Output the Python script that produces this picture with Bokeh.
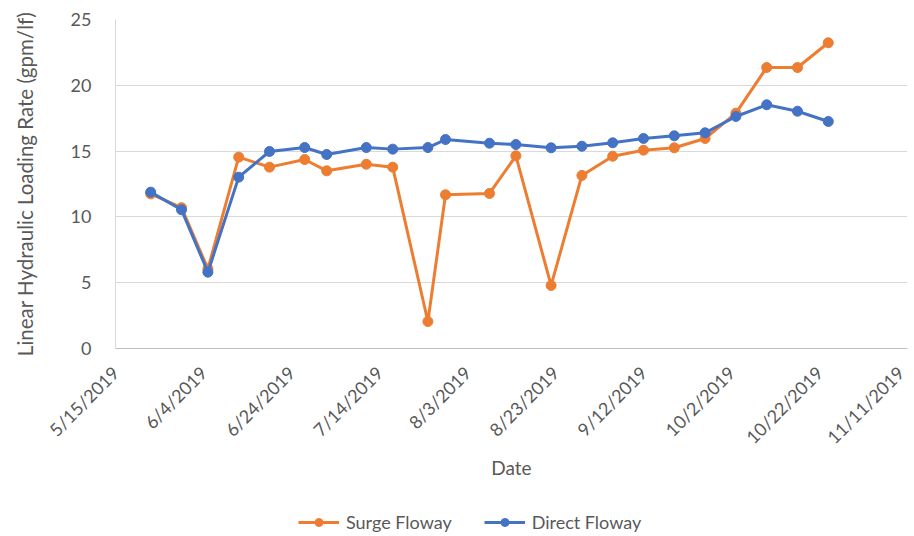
from datetime import datetime
from bokeh.plotting import figure
from bokeh.layouts import column
from bokeh.models import (Range1d, FixedTicker, CustomJSTickFormatter, Legend, LegendItem)
from bokeh.embed import file_html
from bokeh.resources import INLINE
import math

dates = ["2019-05-23", "2019-05-30", "2019-06-05", "2019-06-12", "2019-06-19", "2019-06-27",
         "2019-07-02", "2019-07-11", "2019-07-17", "2019-07-25", "2019-07-29", "2019-08-08",
         "2019-08-14", "2019-08-22", "2019-08-29", "2019-09-05", "2019-09-12", "2019-09-19",
         "2019-09-26", "2019-10-03", "2019-10-10", "2019-10-17", "2019-10-24"]
surge = [11.75, 10.7, 6.05, 14.54, 13.78, 14.36, 13.5, 14.0, 13.78, 2.05, 11.68, 11.78,
         14.64, 4.79, 13.15, 14.61, 15.07, 15.25, 15.96, 17.88, 21.35, 21.35, 23.23]
direct = [11.88, 10.54, 5.8, 13.02, 14.97, 15.27, 14.74, 15.27, 15.15, 15.27, 15.88, 15.6,
          15.5, 15.25, 15.37, 15.63, 15.96, 16.16, 16.39, 17.63, 18.52, 18.03, 17.25]
tick_dates = ["2019-05-15", "2019-06-04", "2019-06-24", "2019-07-14", "2019-08-03",
              "2019-08-23", "2019-09-12", "2019-10-02", "2019-10-22", "2019-11-11"]
y_ticks = [0, 5, 10, 15, 20, 25]
series_names = ["Surge Floway", "Direct Floway"]

x = [datetime.strptime(d, "%Y-%m-%d") for d in dates]
epoch = datetime(1970, 1, 1)
tick_ms = [(datetime.strptime(d, "%Y-%m-%d") - epoch).total_seconds() * 1000 for d in tick_dates]

FONT = "Lato"
GRAY = "#595959"
ORANGE = "#ED7D31"
BLUE = "#4472C4"

p = figure(width=908, height=500, x_axis_type="datetime", output_backend="svg",
           toolbar_location=None,
           x_range=Range1d(datetime(2019, 5, 15), datetime(2019, 11, 11)),
           y_range=Range1d(0, 25))
p.min_border_left = 115
p.min_border_right = 1
p.min_border_top = 19
p.min_border_bottom = 152
p.outline_line_color = None
p.background_fill_color = "white"
p.border_fill_color = "white"

p.xaxis.ticker = FixedTicker(ticks=tick_ms)
p.xaxis.formatter = CustomJSTickFormatter(code="""
const d = new Date(tick);
return (d.getUTCMonth()+1) + '/' + d.getUTCDate() + '/' + d.getUTCFullYear();
""")
p.xaxis.major_label_orientation = math.pi / 4
p.yaxis.ticker = FixedTicker(ticks=y_ticks)

for ax in (p.xaxis, p.yaxis):
    ax.major_tick_line_color = None
    ax.minor_tick_line_color = None
    ax.major_label_text_font = FONT
    ax.major_label_text_font_size = "18px"
    ax.major_label_text_color = GRAY
    ax.axis_label_text_font = FONT
    ax.axis_label_text_color = GRAY
    ax.axis_label_text_font_style = "normal"

p.xaxis.axis_label_text_font_size = "19px"
p.yaxis.axis_label_text_font_size = "20.5px"
p.xaxis.axis_line_color = "#BFBFBF"
p.yaxis.axis_line_color = "#D9D9D9"
p.xaxis.major_label_standoff = 15
p.yaxis.major_label_standoff = 18
p.xaxis.axis_label = "Date"
p.yaxis.axis_label = "Linear Hydraulic Loading Rate (gpm/lf)"
p.xaxis.axis_label_standoff = -3
p.yaxis.axis_label_standoff = 31

p.xgrid.grid_line_color = None
p.ygrid.grid_line_color = "#D9D9D9"
p.ygrid.grid_line_width = 1

p.line(x, surge, line_color=ORANGE, line_width=3)
p.scatter(x, surge, size=10, fill_color=ORANGE, line_color=ORANGE)
p.line(x, direct, line_color=BLUE, line_width=3)
p.scatter(x, direct, size=10, fill_color=BLUE, line_color=BLUE)

# legend strip below the chart (its own renderers lie outside its view range)
q = figure(width=908, height=36, output_backend="svg", toolbar_location=None,
           x_range=Range1d(0, 1), y_range=Range1d(0, 1))
q.axis.visible = False
q.grid.visible = False
q.outline_line_color = None
q.min_border_left = 0
q.min_border_right = 0
q.min_border_top = 0
q.min_border_bottom = 0
items = []
for name, ys, col in zip(series_names, [surge, direct], [ORANGE, BLUE]):
    r1 = q.line(x, ys, line_color=col, line_width=3)
    r2 = q.scatter(x, ys, size=10, fill_color=col, line_color=col)
    items.append(LegendItem(label=name, renderers=[r1, r2]))
legend = Legend(items=items, orientation="horizontal", location=(183, 3))
legend.label_text_font = FONT
legend.label_text_font_size = "18px"
legend.label_text_color = GRAY
legend.border_line_color = None
legend.background_fill_alpha = 0
legend.glyph_width = 41
legend.glyph_height = 20
legend.label_height = 20
legend.label_standoff = 7
legend.spacing = 32
legend.margin = 0
legend.padding = 2
q.add_layout(legend, "center")

layout = column(p, q, spacing=0)
open("out.html", "w").write(file_html(layout, INLINE))
